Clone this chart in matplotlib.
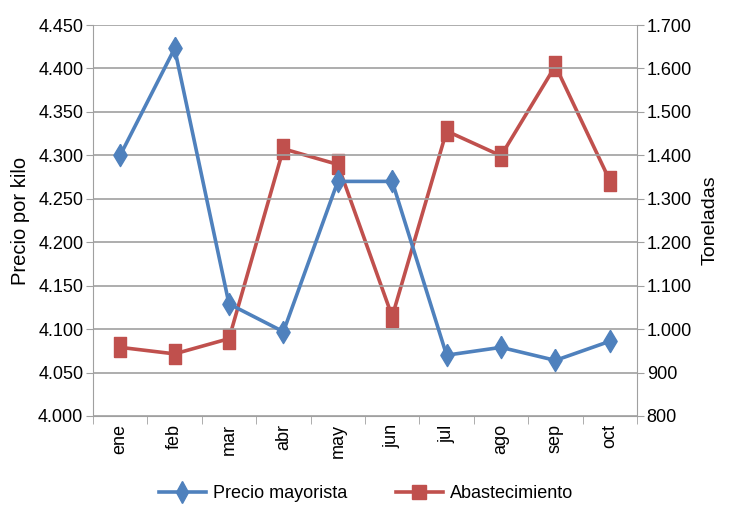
import matplotlib
matplotlib.use("Agg")
import matplotlib.pyplot as plt
from matplotlib.lines import Line2D
from matplotlib.ticker import FuncFormatter, FixedLocator
import numpy as np

plt.rcParams['font.family'] = ['Liberation Sans', 'DejaVu Sans']

# data
meses = ["ene", "feb", "mar", "abr", "may", "jun", "jul", "ago", "sep", "oct"]
precio = [4300, 4423, 4129, 4097, 4270, 4270, 4070, 4079, 4064, 4086]
toneladas = [958, 943, 978, 1415, 1379, 1029, 1456, 1399, 1606, 1342]

azul = "#4F81BD"
rojo = "#C0504D"
gris = "#A0A0A0"

# markers are taller than wide in the reference
rombo = [(0, 1), (0.6, 0), (0, -1), (-0.6, 0), (0, 1)]
rect = [(-0.6, -1), (0.6, -1), (0.6, 1), (-0.6, 1), (-0.6, -1)]

def miles(v, pos):
    return f"{int(round(v)):,}".replace(",", ".")

fig = plt.figure(figsize=(7.32, 5.05), dpi=100)
ax = fig.add_axes([93/732, 1-416/505, (637-93)/732, (416-25)/505])
ax2 = ax.twinx()

x = np.arange(len(meses))
ax.plot(x, precio, color=azul, lw=2.6, marker=rombo, ms=16, zorder=3)
ax2.plot(x, toneladas, color=rojo, lw=2.6, marker=rect, ms=15, zorder=3)
ax.set_zorder(ax2.get_zorder() + 1)
ax.patch.set_visible(False)

ax.set_xlim(-0.5, len(meses) - 0.5)
ax.set_ylim(4000, 4450)
ax.set_yticks(np.arange(4000, 4451, 50))
ax.yaxis.set_major_formatter(FuncFormatter(miles))
ax2.set_ylim(800, 1700)
ax2.set_yticks(np.arange(800, 1701, 100))
ax2.yaxis.set_major_formatter(FuncFormatter(miles))

ax.grid(axis="y", color=gris, lw=1.2, zorder=0)
ax.set_axisbelow(True)

ax.set_xticks(x)
ax.set_xticklabels(meses, rotation=90, fontsize=13)
ax.tick_params(axis="x", length=0, pad=6)
ax.xaxis.set_minor_locator(FixedLocator(np.arange(-0.5, len(meses), 1)))
ax.tick_params(axis="x", which="minor", length=6, color=gris)

ax.tick_params(axis="y", labelsize=13, length=5, color=gris, pad=2)
ax2.tick_params(axis="y", labelsize=13, length=5, color=gris, pad=2)

for a in (ax, ax2):
    for s in a.spines.values():
        s.set_visible(False)
ax.spines["left"].set_visible(True)
ax.spines["left"].set_color(gris)
ax.spines["bottom"].set_visible(True)
ax.spines["bottom"].set_color(gris)
ax2.spines["right"].set_visible(True)
ax2.spines["right"].set_color(gris)

ax.set_ylabel("Precio por kilo", fontsize=14.5, labelpad=6)
ax2.set_ylabel("Toneladas", fontsize=14, labelpad=7)

h1 = Line2D([], [], color=azul, lw=2.6, marker="d", ms=11)
h2 = Line2D([], [], color=rojo, lw=2.6, marker="s", ms=10.5)
fig.legend(handles=[h1, h2], labels=["Precio mayorista", "Abastecimiento"],
           loc="center", bbox_to_anchor=(0.5, 1-494/505),
           ncol=2, frameon=False, fontsize=13, columnspacing=2.7,
           handlelength=2.6, handletextpad=0.4)

fig.savefig("out.png", dpi=100)
